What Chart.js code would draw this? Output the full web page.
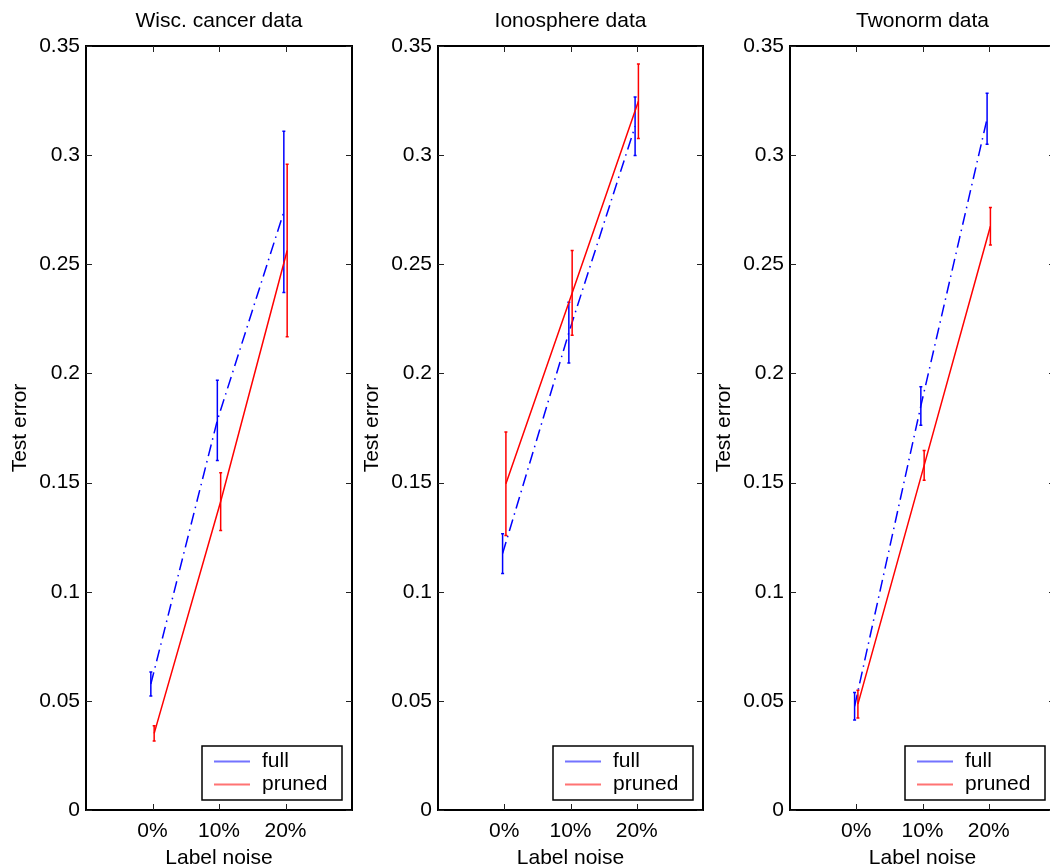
<!DOCTYPE html>
<html>
<head>
<meta charset="utf-8">
<title>Test error vs label noise</title>
<script src="https://cdn.jsdelivr.net/npm/chart.js@4/dist/chart.umd.min.js"></script>
<style>
  html, body { margin: 0; padding: 0; background: #fff; overflow: hidden; }
  #wrap { position: relative; width: 1050px; height: 866px; }
  #wrap canvas { position: absolute; top: 0; }
</style>
</head>
<body>
<div id="wrap">
  <canvas id="wisc" width="362" height="866" style="left:0px"></canvas>
  <canvas id="iono" width="362" height="866" style="left:352px"></canvas>
  <canvas id="twonorm" width="362" height="866" style="left:704px"></canvas>
</div>
<script>
/* 3 panels: test error of full vs pruned trees at 0/10/20% label noise */

// ===== data =====
var noiseLevels = [0, 10, 20];
var yTickValues = [0, 0.05, 0.1, 0.15, 0.2, 0.25, 0.3, 0.35];
var yTickLabels = ["0", "0.05", "0.1", "0.15", "0.2", "0.25", "0.3", "0.35"];
var seriesNames = ["full", "pruned"];

var wiscFull      = [0.0577, 0.1785, 0.2740];
var wiscFullErr   = [0.0055, 0.0184, 0.0369];
var wiscPruned    = [0.0351, 0.1413, 0.2563];
var wiscPrunedErr = [0.0035, 0.0132, 0.0395];

var ionoFull      = [0.1175, 0.2187, 0.3132];
var ionoFullErr   = [0.0091, 0.0139, 0.0134];
var ionoPruned    = [0.1495, 0.2369, 0.3247];
var ionoPrunedErr = [0.0237, 0.0194, 0.0171];

var twoFull       = [0.0475, 0.1851, 0.3167];
var twoFullErr    = [0.0063, 0.0088, 0.0117];
var twoPruned     = [0.0485, 0.1579, 0.2674];
var twoPrunedErr  = [0.0064, 0.0068, 0.0086];

// ===== styles =====
var FONT = "'Liberation Sans', Arial, Helvetica, sans-serif";
var FS = 21;
var SHIFT = 0.25;   // bars of the two series sit slightly apart
Chart.defaults.color = "#000";
Chart.defaults.font.family = FONT;
Chart.defaults.font.size = FS;

// error bars drawn right after each dataset
var errorBars = {
  id: "errorBars",
  afterDatasetDraw: function (chart, args) {
    var ds = chart.data.datasets[args.index];
    if (!ds.errors) return;
    var ctx = chart.ctx, xs = chart.scales.x, ys = chart.scales.y;
    ctx.save();
    ctx.strokeStyle = ds.borderColor;
    ctx.lineWidth = 1.5;
    ds.data.forEach(function (p, i) {
      var px = xs.getPixelForValue(p.x);
      var top = ys.getPixelForValue(p.y + ds.errors[i]);
      var bot = ys.getPixelForValue(p.y - ds.errors[i]);
      ctx.beginPath();
      ctx.moveTo(px, top); ctx.lineTo(px, bot);
      ctx.moveTo(px - 1.5, top); ctx.lineTo(px + 1.5, top);
      ctx.moveTo(px - 1.5, bot); ctx.lineTo(px + 1.5, bot);
      ctx.stroke();
    });
    ctx.restore();
  }
};

// box round the axes with inward ticks on every side
var axesBox = {
  id: "axesBox",
  afterDraw: function (chart) {
    var a = chart.chartArea, ctx = chart.ctx, xs = chart.scales.x, ys = chart.scales.y;
    ctx.save();
    ctx.strokeStyle = "#000";
    ctx.lineWidth = 2;
    ctx.strokeRect(a.left, a.top, a.right - a.left, a.bottom - a.top);
    ctx.lineWidth = 1;
    ctx.strokeStyle = "#222";
    ctx.beginPath();
    noiseLevels.forEach(function (v) {
      var px = Math.round(xs.getPixelForValue(v)) + 0.5;
      ctx.moveTo(px, a.bottom); ctx.lineTo(px, a.bottom - 6);
      ctx.moveTo(px, a.top); ctx.lineTo(px, a.top + 6);
    });
    yTickValues.forEach(function (v) {
      var py = Math.round(ys.getPixelForValue(v)) + 0.5;
      ctx.moveTo(a.left, py); ctx.lineTo(a.left + 6, py);
      ctx.moveTo(a.right, py); ctx.lineTo(a.right - 6, py);
    });
    ctx.stroke();
    ctx.restore();
  }
};

// legend box in the lower right corner
var cornerLegend = {
  id: "cornerLegend",
  afterDraw: function (chart) {
    var a = chart.chartArea, ctx = chart.ctx;
    var w = 140, h = 54;
    var x = a.right - 10 - w, y = a.bottom - 10 - h;
    ctx.save();
    ctx.fillStyle = "#fff";
    ctx.fillRect(x, y, w, h);
    ctx.strokeStyle = "#000";
    ctx.lineWidth = 1.5;
    ctx.strokeRect(x, y, w, h);
    ctx.font = FS + "px " + FONT;
    ctx.textBaseline = "middle";
    chart.data.datasets.forEach(function (ds, i) {
      var ly = y + 15.5 + i * 23;
      ctx.strokeStyle = ds.legendColor;
      ctx.lineWidth = 2;
      ctx.beginPath();
      ctx.moveTo(x + 12, ly); ctx.lineTo(x + 48, ly);
      ctx.stroke();
      ctx.fillStyle = "#000";
      ctx.fillText(ds.label, x + 60, ly);
    });
    ctx.restore();
  }
};

function points(values, shift) {
  return values.map(function (v, i) { return { x: noiseLevels[i] + shift, y: v }; });
}

function makePanel(id, title, axisWidth, full, fullErr, pruned, prunedErr) {
  new Chart(document.getElementById(id), {
    type: "line",
    data: {
      datasets: [
        {
          label: seriesNames[0],
          data: points(full, -SHIFT),
          errors: fullErr,
          borderColor: "#0000ff",
          legendColor: "#7373ff",
          borderWidth: 1.5,
          borderDash: [12, 5, 1.5, 5],
          pointRadius: 0,
          order: 1,
        },
        {
          label: seriesNames[1],
          data: points(pruned, SHIFT),
          errors: prunedErr,
          borderColor: "#ff0000",
          legendColor: "#ff7373",
          borderWidth: 1.5,
          pointRadius: 0,
          order: 0,
        },
      ],
    },
    options: {
      responsive: false,
      animation: false,
      events: [],
      layout: { padding: { left: 0, right: 362 - 86 - axisWidth, top: 0, bottom: 0 } },
      plugins: {
        legend: { display: false },
        tooltip: { enabled: false },
        title: {
          display: true,
          text: title,
          fullSize: false,
          color: "#000",
          font: { size: FS, weight: "normal" },
          padding: { top: 9, bottom: 11.8 },
        },
      },
      scales: {
        x: {
          type: "linear",
          min: -10, max: 30,
          afterBuildTicks: function (s) {
            s.ticks = noiseLevels.map(function (v) { return { value: v }; });
          },
          afterFit: function (s) { s.height = 56; },
          ticks: {
            padding: 9,
            maxRotation: 0,
            callback: function (v) { return v + "%"; },
          },
          grid: { display: false, drawTicks: false },
          border: { display: false },
          title: {
            display: true,
            text: "Label noise",
            font: { size: FS, lineHeight: 0.72 },
            padding: { top: 0, bottom: 0 },
          },
        },
        y: {
          min: 0, max: 0.35,
          afterBuildTicks: function (s) {
            s.ticks = yTickValues.map(function (v) { return { value: v }; });
          },
          afterFit: function (s) { s.width = 86; },
          ticks: {
            padding: 6,
            callback: function (v, i) { return yTickLabels[i]; },
          },
          grid: { display: false, drawTicks: false },
          border: { display: false },
          title: {
            display: true,
            text: "Test error",
            font: { size: FS },
            padding: { top: 8, bottom: 0 },
          },
        },
      },
    },
    plugins: [errorBars, axesBox, cornerLegend],
  });
}

makePanel("wisc", "Wisc. cancer data", 266, wiscFull, wiscFullErr, wiscPruned, wiscPrunedErr);
makePanel("iono", "Ionosphere data", 265, ionoFull, ionoFullErr, ionoPruned, ionoPrunedErr);
makePanel("twonorm", "Twonorm data", 265, twoFull, twoFullErr, twoPruned, twoPrunedErr);
</script>
</body>
</html>
